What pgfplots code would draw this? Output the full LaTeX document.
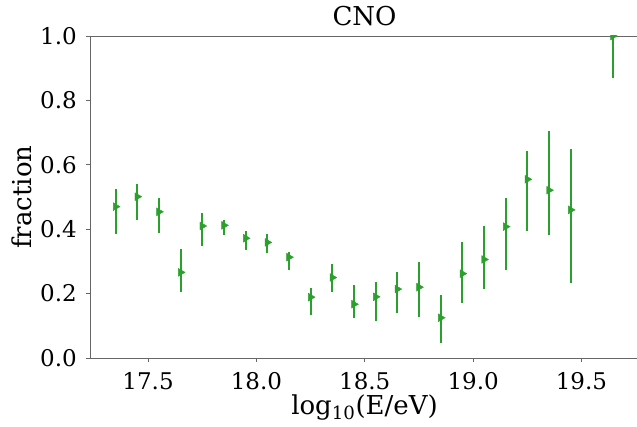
\documentclass[border=0pt]{standalone}
\usepackage{fontspec}
\setmainfont{DejaVu Serif}
\usepackage{pgfplots}
\pgfplotsset{compat=1.18}
\definecolor{tabgreen}{HTML}{2CA02C}

\begin{document}
\begin{tikzpicture}
\useasboundingbox (-90pt,-68pt) rectangle (547pt,358pt);
\begin{axis}[
  scale only axis,
  width=549pt,
  height=322pt,
  xmin=17.232, xmax=19.7655,
  ymin=0, ymax=1,
  xtick={17.5,18.0,18.5,19.0,19.5},
  ytick={0,0.2,0.4,0.6,0.8,1.0},
  /pgf/number format/fixed,
  /pgf/number format/fixed zerofill,
  /pgf/number format/precision=1,
  /pgf/number format/assume math mode=true,
  xtick pos=bottom,
  ytick pos=left,
  tick align=outside,
  major tick length=4pt,
  tick style={black!60, line width=0.8pt},
  axis line style={black!60, line width=0.8pt},
  tick label style={font=\fontsize{23}{23}\selectfont},
  xticklabel style={inner sep=0pt, anchor=north, yshift=-10pt},
  yticklabel style={inner sep=0pt, anchor=east, xshift=-9pt},
  title={CNO},
  title style={font=\fontsize{26}{26}\selectfont, at={(axis description cs:0.5,1)}, anchor=center, yshift=14pt},
  xlabel={log\textsubscript{10}(E/eV)},
  ylabel={fraction},
  label style={font=\fontsize{26}{26}\selectfont},
  xlabel style={at={(axis description cs:0.5,0)}, anchor=center, yshift=-50pt},
  ylabel style={at={(axis description cs:-0.124,0.5)}, anchor=center},
  clip marker paths=true,
]
\addplot+[
  only marks,
  color=tabgreen,
  mark=triangle*,
  mark size=4.5pt,
  mark options={rotate=-90, fill=tabgreen, draw=tabgreen},
  error bars/.cd,
    y dir=both, y explicit,
    error mark=none,
    error bar style={line width=2pt, tabgreen},
] coordinates {
  (17.35,0.470) += (0,0.055) -= (0,0.084)
  (17.45,0.501) += (0,0.040) -= (0,0.072)
  (17.55,0.454) += (0,0.042) -= (0,0.065)
  (17.65,0.266) += (0,0.072) -= (0,0.060)
  (17.75,0.410) += (0,0.040) -= (0,0.061)
  (17.85,0.412) += (0,0.018) -= (0,0.029)
  (17.95,0.372) += (0,0.023) -= (0,0.036)
  (18.05,0.359) += (0,0.026) -= (0,0.033)
  (18.15,0.313) += (0,0.015) -= (0,0.039)
  (18.25,0.189) += (0,0.027) -= (0,0.055)
  (18.35,0.250) += (0,0.042) -= (0,0.044)
  (18.45,0.167) += (0,0.061) -= (0,0.044)
  (18.55,0.190) += (0,0.047) -= (0,0.075)
  (18.65,0.214) += (0,0.054) -= (0,0.075)
  (18.75,0.220) += (0,0.079) -= (0,0.093)
  (18.85,0.125) += (0,0.071) -= (0,0.079)
  (18.95,0.262) += (0,0.097) -= (0,0.091)
  (19.05,0.306) += (0,0.104) -= (0,0.092)
  (19.15,0.408) += (0,0.090) -= (0,0.136)
  (19.25,0.555) += (0,0.088) -= (0,0.162)
  (19.35,0.521) += (0,0.185) -= (0,0.140)
  (19.45,0.460) += (0,0.190) -= (0,0.227)
  (19.645,1.000) += (0,0.000) -= (0,0.130)
};
\end{axis}
\end{tikzpicture}
\end{document}
